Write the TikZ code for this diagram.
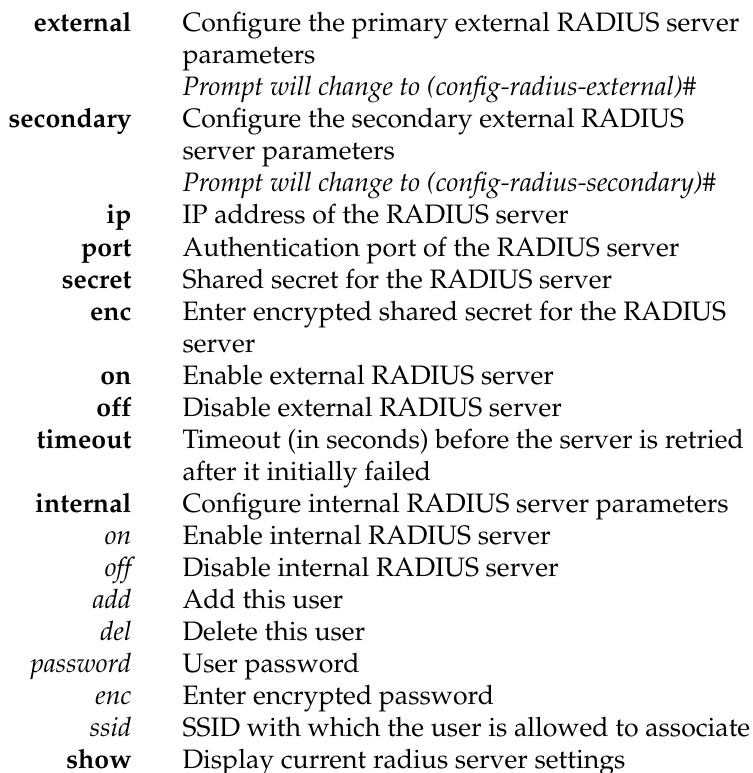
\documentclass[tikz,border=0pt]{standalone}
\usepackage[T1]{fontenc}
\usepackage{mathpazo}

\tikzset{
  chiave/.style={anchor=base east, inner sep=0pt, font=\bfseries},
  opzione/.style={anchor=base east, inner sep=0pt, font=\itshape},
  descr/.style={anchor=base west, inner sep=0pt},
}

\begin{document}
\begin{tikzpicture}[x=0.375pt, y=-0.375pt]

        % 1. Area della figura (in pixel, asse y verso il basso)
        \useasboundingbox (0,0) rectangle (752,773);

        % 2. Comandi per il server RADIUS esterno
        \node[chiave] (external) at (132,32) {external};
        \node[descr] (d0) at (182,32) {Configure the primary external RADIUS server};
        \node[descr] (d1) at (182,64) {parameters};
        \node[descr, font=\itshape] (d2) at (182,96) {Prompt will change to (config-radius-external)\#};
        \node[chiave] (secondary) at (132,128) {secondary};
        \node[descr] (d3) at (182,128) {Configure the secondary external RADIUS};
        \node[descr] (d4) at (182,160) {server parameters};
        \node[descr, font=\itshape] (d5) at (182,192) {Prompt will change to (config-radius-secondary)\#};

        % 3. Parametri del server esterno
        \node[chiave] (ip) at (132,224) {ip};
        \node[descr] (d6) at (182,224) {IP address of the RADIUS server};
        \node[chiave] (port) at (132,256) {port};
        \node[descr] (d7) at (182,256) {Authentication port of the RADIUS server};
        \node[chiave] (secret) at (132,288) {secret};
        \node[descr] (d8) at (182,288) {Shared secret for the RADIUS server};
        \node[chiave] (enc) at (132,320) {enc};
        \node[descr] (d9) at (182,320) {Enter encrypted shared secret for the RADIUS};
        \node[descr] (d10) at (182,352) {server};
        \node[chiave] (on) at (132,384) {on};
        \node[descr] (d11) at (182,384) {Enable external RADIUS server};
        \node[chiave] (off) at (132,416) {off};
        \node[descr] (d12) at (182,416) {Disable external RADIUS server};
        \node[chiave] (timeout) at (132,448) {timeout};
        \node[descr] (d13) at (182,448) {Timeout (in seconds) before the server is retried};
        \node[descr] (d14) at (182,480) {after it initially failed};

        % 4. Server RADIUS interno e sue opzioni (in corsivo)
        \node[chiave] (internal) at (132,512) {internal};
        \node[descr] (d15) at (182,512) {Configure internal RADIUS server parameters};
        \node[opzione] (ion) at (132,544) {on};
        \node[descr] (d16) at (182,544) {Enable internal RADIUS server};
        \node[opzione] (ioff) at (132,576) {off};
        \node[descr] (d17) at (182,576) {Disable internal RADIUS server};
        \node[opzione] (add) at (132,608) {add};
        \node[descr] (d18) at (182,608) {Add this user};
        \node[opzione] (del) at (132,640) {del};
        \node[descr] (d19) at (182,640) {Delete this user};
        \node[opzione] (password) at (132,672) {password};
        \node[descr] (d20) at (182,672) {User password};
        \node[opzione] (ienc) at (132,704) {enc};
        \node[descr] (d21) at (182,704) {Enter encrypted password};
        \node[opzione] (ssid) at (132,736) {ssid};
        \node[descr] (d22) at (182,736) {SSID with which the user is allowed to associate};

        % 5. Visualizzazione delle impostazioni
        \node[chiave] (show) at (132,768) {show};
        \node[descr] (d23) at (182,768) {Display current radius server settings};

    \end{tikzpicture}
\end{document}
